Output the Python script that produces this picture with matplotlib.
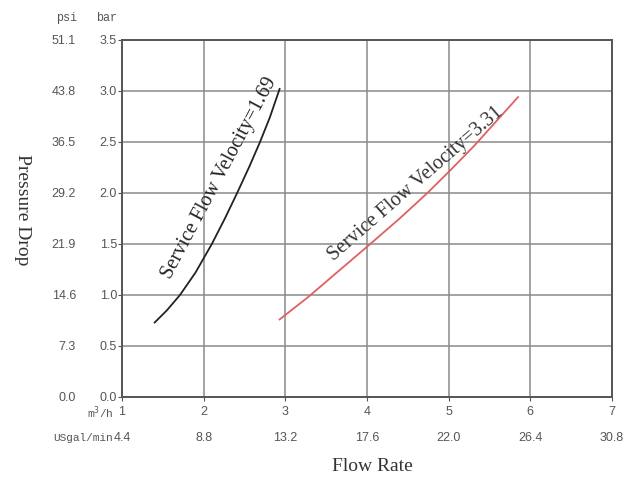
import matplotlib
matplotlib.use("Agg")
import matplotlib.pyplot as plt
import matplotlib.transforms as mtransforms

# Data
flow_m3h = [1, 2, 3, 4, 5, 6, 7]
flow_usgal = ["4.4", "8.8", "13.2", "17.6", "22.0", "26.4", "30.8"]
bar_ticks = [0.0, 0.5, 1.0, 1.5, 2.0, 2.5, 3.0, 3.5]
psi_labels = ["0.0", "7.3", "14.6", "21.9", "29.2", "36.5", "43.8", "51.1"]

v169_x = [1.40, 1.55, 1.71, 1.90, 2.10, 2.26, 2.41, 2.56, 2.69, 2.81, 2.93]
v169_y = [0.73, 0.85, 1.00, 1.22, 1.50, 1.75, 2.00, 2.26, 2.50, 2.74, 3.02]
v331_x = [2.93, 3.28, 3.66, 4.04, 4.40, 4.74, 5.03, 5.31, 5.58, 5.85]
v331_y = [0.76, 0.98, 1.24, 1.50, 1.75, 2.00, 2.23, 2.46, 2.70, 2.94]

fig = plt.figure(figsize=(6.27, 4.81), dpi=100)
ax = fig.add_axes([0.1946, 0.1726, 0.976 - 0.1946, 0.9148 - 0.1726])
ax.set_xlim(1, 7)
ax.set_ylim(0, 3.5)

ax.set_xticks(flow_m3h)
ax.set_yticks(bar_ticks)
ax.grid(True, color="#8a8a8a", lw=1.1)
ax.set_axisbelow(True)
for s in ax.spines.values():
    s.set_color("#555555")
    s.set_linewidth(1.4)
ax.tick_params(length=3, color="#555555", labelleft=False, labelbottom=False)

ax.plot(v169_x, v169_y, color="#222222", lw=1.3)
ax.plot(v331_x, v331_y, color="#e06060", lw=1.3)

serif = ["Liberation Serif", "DejaVu Serif"]
ax.text(2.19, 2.16, "Service Flow Velocity=1.69", rotation=62, ha="center", va="center",
        rotation_mode="anchor", fontsize=14.5, family=serif, color="#222222")
ax.text(4.60, 2.10, "Service Flow Velocity=3.31", rotation=41, ha="center", va="center",
        rotation_mode="anchor", fontsize=14.5, family=serif, color="#333333")

tickcol = "#555555"
sans = ["Liberation Sans", "DejaVu Sans"]
mono = ["Liberation Mono", "DejaVu Sans Mono"]

# y tick labels (bar and psi)
trans_y = mtransforms.blended_transform_factory(fig.transFigure, ax.transData)
for b, p in zip(bar_ticks, psi_labels):
    ax.text(117 / 627, b, f"{b:.1f}", transform=trans_y, ha="right", va="center",
            fontsize=9, family=sans, color=tickcol)
    ax.text(76 / 627, b, p, transform=trans_y, ha="right", va="center",
            fontsize=9, family=sans, color=tickcol)
fig.text(67 / 627, 1 - 18 / 481, "psi", ha="center", va="center", fontsize=8.5, family=mono, color=tickcol)
fig.text(107 / 627, 1 - 18 / 481, "bar", ha="center", va="center", fontsize=8.5, family=mono, color=tickcol)

# x tick labels (two rows)
trans_x = mtransforms.blended_transform_factory(ax.transData, fig.transFigure)
for m, g in zip(flow_m3h, flow_usgal):
    ax.text(m, 1 - 412 / 481, str(m), transform=trans_x, ha="center", va="center",
            fontsize=9, family=sans, color=tickcol)
    ax.text(m, 1 - 438 / 481, g, transform=trans_x, ha="center", va="center",
            fontsize=9, family=sans, color=tickcol)
fig.text(113 / 627, 1 - 413 / 481, "m$^3$/h", ha="right", va="center", fontsize=8, family=mono, color=tickcol)
fig.text(113 / 627, 1 - 438 / 481, "USgal/min", ha="right", va="center", fontsize=8, family=mono, color=tickcol)

fig.text(22 / 627, 1 - 210 / 481, "Pressure Drop", rotation=270, ha="center", va="center",
         fontsize=14, family=serif, color="#333333")
fig.text(372 / 627, 1 - 467 / 481, "Flow Rate", ha="center", va="center",
         fontsize=14, family=serif, color="#333333")

fig.savefig("out.png", dpi=100)
